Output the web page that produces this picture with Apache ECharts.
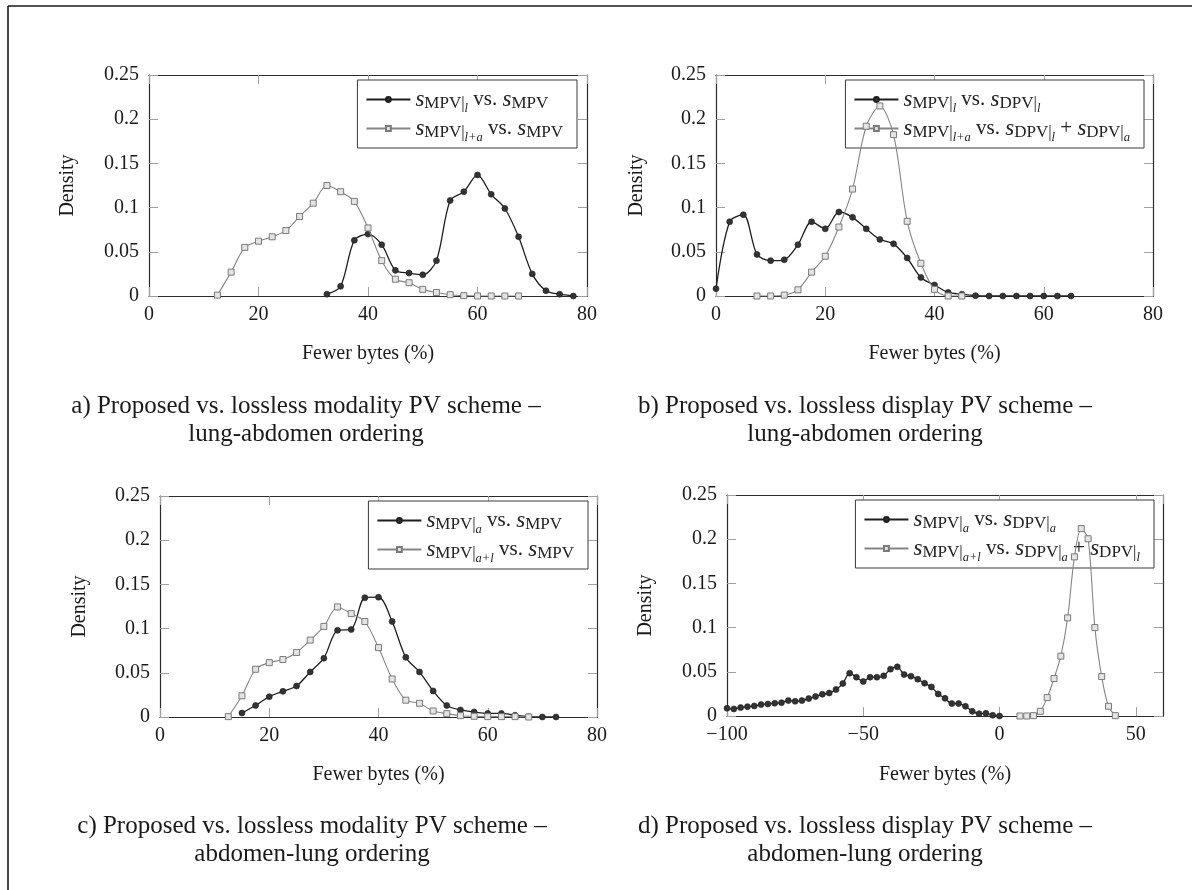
<!DOCTYPE html>
<html>
<head>
<meta charset="utf-8">
<script src="https://cdn.jsdelivr.net/npm/echarts@6/dist/echarts.min.js"></script>
<style>
html,body{margin:0;padding:0;background:#fff;}
#chart{width:1192px;height:890px;}
</style>
</head>
<body>
<div id="chart"></div>
<script>
// ---------- data ----------
var aX1 = [32.5,35,37.5,40,42.5,45,47.5,50,52.5,55,57.5,60,62.5,65,67.5,70,72.5,75,77.5];
var aY1 = [0.002,0.011,0.063,0.070,0.058,0.029,0.026,0.024,0.040,0.108,0.118,0.137,0.115,0.099,0.067,0.025,0.006,0.002,0.000];
var aX2 = [12.5,15,17.5,20,22.5,25,27.5,30,32.5,35,37.5,40,42.5,45,47.5,50,52.5,55,57.5,60,62.5,65,67.5];
var aY2 = [0.001,0.027,0.055,0.062,0.067,0.074,0.090,0.105,0.125,0.118,0.107,0.077,0.040,0.019,0.015,0.0075,0.004,0.0015,0.0004,0,0,0,0];

var bX1 = [0,2.5,5,7.5,10,12.5,15,17.5,20,22.5,25,27.5,30,32.5,35,37.5,40,42.5,45,47.5,50,52.5,55,57.5,60,62.5,65];
var bY1 = [0.0083,0.084,0.092,0.047,0.040,0.041,0.058,0.084,0.076,0.095,0.089,0.076,0.064,0.059,0.043,0.021,0.0125,0.004,0.002,0.0004,0,0,0,0,0,0,0];
var bX2 = [7.5,10,12.5,15,17.5,20,22.5,25,27.5,30,32.5,35,37.5,40,42.5,45];
var bY2 = [0,0,0.001,0.007,0.027,0.045,0.078,0.121,0.192,0.215,0.1825,0.0845,0.037,0.0075,0,0];

var cX1 = [15,17.5,20,22.5,25,27.5,30,32.5,35,37.5,40,42.5,45,47.5,50,52.5,55,57.5,60,62.5,65,67.5,70,72.5];
var cY1 = [0.0045,0.013,0.023,0.029,0.035,0.051,0.0665,0.098,0.099,0.135,0.1355,0.108,0.0675,0.051,0.0295,0.013,0.008,0.0057,0.004,0.004,0.002,0.0004,0,0];
var cX2 = [12.5,15,17.5,20,22.5,25,27.5,30,32.5,35,37.5,40,42.5,45,47.5,50,52.5,55,57.5,60,62.5,65,67.5];
var cY2 = [0.0004,0.024,0.054,0.0615,0.065,0.073,0.087,0.1025,0.1245,0.117,0.108,0.0785,0.043,0.019,0.0155,0.0068,0.0038,0.0015,0.0008,0.0004,0.0004,0.0004,0];

var dX1 = [-100,-97.5,-95,-92.5,-90,-87.5,-85,-82.5,-80,-77.5,-75,-72.5,-70,-67.5,-65,-62.5,-60,-57.5,-55,-52.5,-50,-47.5,-45,-42.5,-40,-37.5,-35,-32.5,-30,-27.5,-25,-22.5,-20,-17.5,-15,-12.5,-10,-7.5,-5,-2.5,0];
var dY1 = [0.0087,0.008,0.0095,0.0106,0.0113,0.0129,0.0136,0.0144,0.0151,0.0174,0.0166,0.0174,0.0197,0.022,0.0246,0.026,0.030,0.0367,0.0484,0.0439,0.039,0.0439,0.0439,0.0454,0.053,0.0556,0.0469,0.045,0.0416,0.037,0.0329,0.025,0.020,0.014,0.014,0.011,0.0053,0.0026,0.003,0.0008,0];
var dX2 = [7.5,10,12.5,15,17.5,20,22.5,25,27.5,30,32.5,35,37.5,40,42.5];
var dY2 = [0,0,0.0004,0.0053,0.0208,0.0424,0.0677,0.111,0.180,0.212,0.2005,0.100,0.0446,0.011,0.0004];

var xTicksAB = {min:0, max:80, interval:20};
var xTicksD = {min:-100, max:60, interval:50};
var yTicks = {min:0, max:0.25, interval:0.05};

var legendNames = {
  a1: '{s|s}{m|MPV|}{i|l}{n| vs. }{s|s}{m|MPV}',
  a2: '{s|s}{m|MPV|}{i|l+a}{n| vs. }{s|s}{m|MPV}',
  b1: '{s|s}{m|MPV|}{i|l}{n| vs. }{s|s}{m|DPV|}{i|l}',
  b2: '{s|s}{m|MPV|}{i|l+a}{n| vs. }{s|s}{m|DPV|}{i|l}{n| + }{s|s}{m|DPV|}{i|a}',
  c1: '{s|s}{m|MPV|}{i|a}{n| vs. }{s|s}{m|MPV}',
  c2: '{s|s}{m|MPV|}{i|a+l}{n| vs. }{s|s}{m|MPV}',
  d1: '{s|s}{m|MPV|}{i|a}{n| vs. }{s|s}{m|DPV|}{i|a}',
  d2: '{s|s}{m|MPV|}{i|a+l}{n| vs. }{s|s}{m|DPV|}{i|a}{n| + }{s|s}{m|DPV|}{i|l}'
};

var captions = [
  ['a) Proposed vs. lossless modality PV scheme –', 'lung-abdomen ordering'],
  ['b) Proposed vs. lossless display PV scheme –', 'lung-abdomen ordering'],
  ['c) Proposed vs. lossless modality PV scheme –', 'abdomen-lung ordering'],
  ['d) Proposed vs. lossless display PV scheme –', 'abdomen-lung ordering']
];

// ---------- layout ----------
var FONT = 'Liberation Serif, Times New Roman, serif';
var panels = [
  {grid:{left:149, top:75, width:438, height:221}, xt:xTicksAB, s:[['a1',aX1,aY1],['a2',aX2,aY2]],
   legend:{right:615, top:80}, cap:{x:306, y1:406, y2:434}, xname:{x:368, y:354}, yname:{x:68, y:185.5}},
  {grid:{left:716, top:75, width:437, height:221}, xt:xTicksAB, s:[['b1',bX1,bY1],['b2',bX2,bY2]],
   legend:{right:48, top:80}, cap:{x:865, y1:406, y2:434}, xname:{x:934.5, y:354}, yname:{x:637, y:185.5}},
  {grid:{left:160, top:496, width:437, height:221}, xt:xTicksAB, s:[['c1',cX1,cY1],['c2',cX2,cY2]],
   legend:{right:604, top:501}, cap:{x:312, y1:826, y2:854}, xname:{x:378.5, y:775}, yname:{x:80, y:606.5}},
  {grid:{left:727, top:495, width:436, height:221}, xt:xTicksD, s:[['d1',dX1,dY1],['d2',dX2,dY2]],
   legend:{right:38, top:500}, cap:{x:865, y1:826, y2:854}, xname:{x:945, y:775}, yname:{x:646, y:605.5}}
];

function fmtNum(v){
  if (v < 0) return '\u2212' + Math.abs(v);
  return String(+v.toFixed(4));
}

var grids = [], xAxes = [], yAxes = [], series = [], legends = [], graphics = [];
var tickStyle = {show:true, inside:true, length:9, lineStyle:{color:'#a0a0a0', width:1}};
var frameLine = {show:true, onZero:false, lineStyle:{color:'#2b2b2b', width:1.2}};

var richStyles = {
  s: {fontFamily:FONT, fontStyle:'italic', fontSize:23, lineHeight:27, color:'#222'},
  n: {fontFamily:FONT, fontSize:21, lineHeight:27, color:'#222'},
  m: {fontFamily:FONT, fontSize:17, lineHeight:27, padding:[9,0,0,0], color:'#222'},
  i: {fontFamily:FONT, fontStyle:'italic', fontSize:12.5, lineHeight:27, padding:[18,0,0,0], color:'#222'}
};

panels.forEach(function(p, k){
  grids.push({left:p.grid.left, top:p.grid.top, width:p.grid.width, height:p.grid.height, containLabel:false});
  var xb = {type:'value', gridIndex:k, position:'bottom', min:p.xt.min, max:p.xt.max, interval:p.xt.interval,
    axisLine:frameLine, axisTick:tickStyle, splitLine:{show:false},
    axisLabel:{show:true, margin:9, fontFamily:FONT, fontSize:20, color:'#1a1a1a', formatter:fmtNum,
      showMaxLabel: (p.xt.max % p.xt.interval === 0)}};
  var xt = {type:'value', gridIndex:k, position:'top', min:p.xt.min, max:p.xt.max, interval:p.xt.interval,
    axisLine:frameLine, axisTick:tickStyle, splitLine:{show:false}, axisLabel:{show:false}};
  var yl = {type:'value', gridIndex:k, position:'left', min:yTicks.min, max:yTicks.max, interval:yTicks.interval,
    axisLine:frameLine, axisTick:tickStyle, splitLine:{show:false},
    axisLabel:{show:true, margin:10, fontFamily:FONT, fontSize:20, color:'#1a1a1a', formatter:fmtNum}};
  var yr = {type:'value', gridIndex:k, position:'right', min:yTicks.min, max:yTicks.max, interval:yTicks.interval,
    axisLine:frameLine, axisTick:tickStyle, splitLine:{show:false}, axisLabel:{show:false}};
  xAxes.push(xb, xt);
  yAxes.push(yl, yr);

  p.s.forEach(function(sd, j){
    var data = sd[1].map(function(x, q){ return [x, sd[2][q]]; });
    var dark = (j === 0);
    series.push({
      name: sd[0], type:'line', xAxisIndex:2*k, yAxisIndex:2*k, data:data,
      smooth:0.3, showSymbol:true, showAllSymbol:true,
      symbol: dark ? 'circle' : 'rect', symbolSize: 6,
      lineStyle: {color: dark ? '#1e1e1e' : '#858585', width: dark ? 1.3 : 1.1},
      itemStyle: dark ? {color:'#333333', borderColor:'#1e1e1e', borderWidth:0.6}
                      : {color:'#e4e4e4', borderColor:'#7a7a7a', borderWidth:1},
      emphasis:{disabled:true}, z: 3 + j
    });
  });

  legends.push({
    data: [p.s[0][0], p.s[1][0]], orient:'vertical', right:p.legend.right, top:p.legend.top, z:1,
    backgroundColor:'#fff', borderColor:'#3a3a3a', borderWidth:1, borderRadius:0,
    padding:[4,14,4,8], itemGap:-2, itemWidth:44, itemHeight:6, selectedMode:false,
    formatter:function(name){ return legendNames[name]; },
    textStyle:{rich:richStyles, fontFamily:FONT, fontSize:20, color:'#222'}
  });

  graphics.push(
    {type:'text', style:{text:captions[k][0], x:p.cap.x, y:p.cap.y1, textAlign:'center', textVerticalAlign:'middle', align:'center', verticalAlign:'middle', font:'25px ' + FONT, fill:'#1a1a1a'}},
    {type:'text', style:{text:captions[k][1], x:p.cap.x, y:p.cap.y2, textAlign:'center', textVerticalAlign:'middle', align:'center', verticalAlign:'middle', font:'25px ' + FONT, fill:'#1a1a1a'}},
    {type:'text', style:{text:'Fewer bytes (%)', x:p.xname.x, y:p.xname.y, textAlign:'center', textVerticalAlign:'middle', align:'center', verticalAlign:'middle', font:'20px ' + FONT, fill:'#1a1a1a'}},
    {type:'text', x:p.yname.x, y:p.yname.y, rotation:Math.PI/2, style:{text:'Density', x:0, y:0, textAlign:'center', textVerticalAlign:'middle', align:'center', verticalAlign:'middle', font:'20px ' + FONT, fill:'#1a1a1a'}}
  );
});

// outer frame lines (top and left)
graphics.push(
  {type:'line', shape:{x1:8, y1:6, x2:1192, y2:6}, style:{stroke:'#1a1a1a', lineWidth:1.6}},
  {type:'line', shape:{x1:8, y1:6, x2:8, y2:890}, style:{stroke:'#1a1a1a', lineWidth:1.6}}
);

var chart = echarts.init(document.getElementById('chart'), null, {renderer:'canvas'});
chart.setOption({
  animation:false,
  backgroundColor:'#ffffff',
  grid:grids, xAxis:xAxes, yAxis:yAxes, series:series, legend:legends,
  graphic:{elements:graphics}
});
</script>
</body>
</html>
